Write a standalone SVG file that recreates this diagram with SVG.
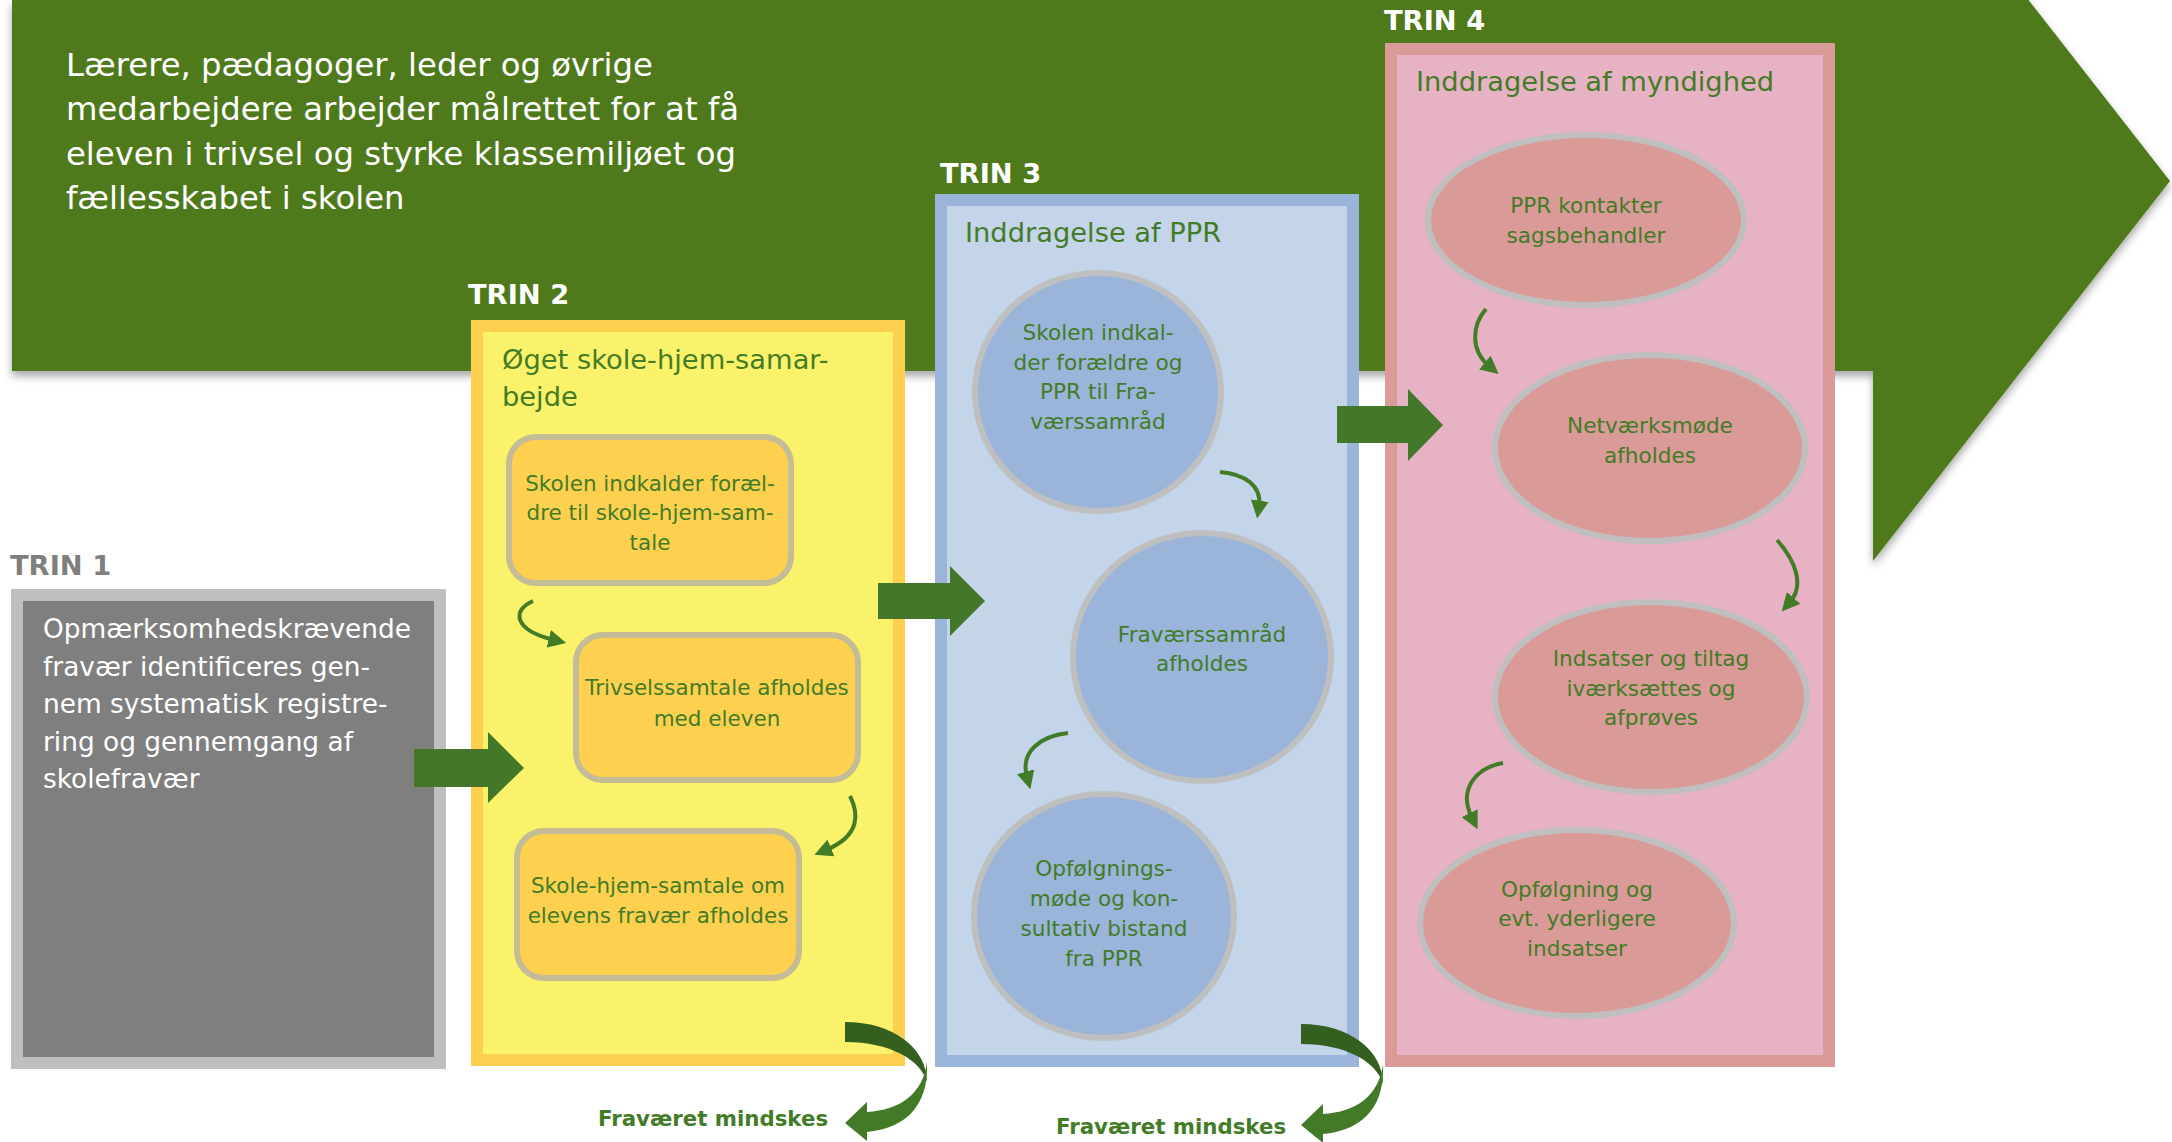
<svg xmlns="http://www.w3.org/2000/svg" width="2172" height="1142" viewBox="0 0 2172 1142">
<style>
text{font-family:"DejaVu Sans","Verdana",sans-serif}
.hdr{fill:#ffffff;font-size:32.3px}
.trin{font-weight:bold;font-size:27.3px}
.title{fill:#437c26;font-size:27.3px}
.t1{fill:#ffffff;font-size:26.4px}
.n2{fill:#437c26;font-size:21.5px;text-anchor:middle}
.n3{fill:#437c26;font-size:21.6px;text-anchor:middle}
.fm{fill:#437c26;font-size:21.3px;font-weight:bold}
.small{fill:none;stroke:#437c26;stroke-width:4;marker-end:url(#ah)}
.rr{fill:#fdd14f;stroke:#c4bb97;stroke-width:6}
.c3{fill:#9ab5d9;stroke:#bfbfbf;stroke-width:6}
.c4{fill:#d99a98;stroke:#bfbfbf;stroke-width:6}
.block{fill:#43782a}
</style>
<defs>
<filter id="sh" x="-5%" y="-5%" width="110%" height="115%">
<feDropShadow dx="0" dy="5" stdDeviation="4" flood-color="#000" flood-opacity="0.35"/>
</filter>
<marker id="ah" markerUnits="userSpaceOnUse" markerWidth="18" markerHeight="18" viewBox="0 0 10 10" refX="3" refY="5" orient="auto">
<path d="M0,0 L10,5 L0,10 Z" fill="#437c26"/>
</marker>
<g id="curved">
<path d="M0,0 C48,0 82,26 82,60 C76,38 45,20 0,20 Z" fill="#33601f"/>
<path d="M82,40 C84,85 60,106 22,110 L22,119 L0,101 L22,80 L22,90 C55,88 78,72 82,40 Z" fill="#437a28"/>
</g>
</defs>

<g id="background-arrow">
<polygon points="12,0 1873,0 1873,-199 2170,181 1873,561 1873,371 12,371" fill="#4f7a1f" filter="url(#sh)"/>
<text class="hdr" x="66" y="76">Lærere, pædagoger, leder og øvrige</text>
<text class="hdr" x="66" y="120">medarbejdere arbejder målrettet for at få</text>
<text class="hdr" x="66" y="165">eleven i trivsel og styrke klassemiljøet og</text>
<text class="hdr" x="66" y="209">fællesskabet i skolen</text>
</g>

<g id="trin1">
<text class="trin" x="10" y="575" fill="#7f7f7f">TRIN 1</text>
<rect x="17" y="595" width="423" height="468" fill="#7f7f7f" stroke="#bfbfbf" stroke-width="12"/>
<text class="t1" x="43" y="638">Opmærksomhedskrævende</text>
<text class="t1" x="43" y="676">fravær identificeres gen-</text>
<text class="t1" x="43" y="713">nem systematisk registre-</text>
<text class="t1" x="43" y="751">ring og gennemgang af</text>
<text class="t1" x="43" y="788">skolefravær</text>
</g>

<g id="trin2">
<text class="trin" x="468" y="304" fill="#ffffff">TRIN 2</text>
<rect x="477" y="326" width="422" height="734" fill="#faf26a" stroke="#fdd14f" stroke-width="12"/>
<text class="title" x="502" y="369">Øget skole-hjem-samar-</text>
<text class="title" x="502" y="406">bejde</text>
</g>
<g id="trin2-node1">
<rect class="rr" x="509" y="437" width="282" height="146" rx="27"/>
<text class="n2" x="650" y="491">Skolen indkalder foræl-</text>
<text class="n2" x="650" y="520">dre til skole-hjem-sam-</text>
<text class="n2" x="650" y="550">tale</text>
</g>
<g id="trin2-node2">
<rect class="rr" x="576" y="635" width="282" height="145" rx="27"/>
<text class="n2" x="717" y="695">Trivselssamtale afholdes</text>
<text class="n2" x="717" y="726">med eleven</text>
</g>
<g id="trin2-node3">
<rect class="rr" x="517" y="831" width="282" height="147" rx="27"/>
<text class="n2" x="658" y="893">Skole-hjem-samtale om</text>
<text class="n2" x="658" y="923">elevens fravær afholdes</text>
</g>

<g id="trin3">
<text class="trin" x="940" y="183" fill="#ffffff">TRIN 3</text>
<rect x="941" y="200" width="412" height="861" fill="#c4d4e9" stroke="#9ab5d9" stroke-width="12"/>
<text class="title" x="965" y="242">Inddragelse af PPR</text>
</g>
<g id="trin3-node1">
<ellipse class="c3" cx="1098" cy="392" rx="123" ry="119"/>
<text class="n3" x="1098" y="340">Skolen indkal-</text>
<text class="n3" x="1098" y="370">der forældre og</text>
<text class="n3" x="1098" y="399">PPR til Fra-</text>
<text class="n3" x="1098" y="429">værssamråd</text>
</g>
<g id="trin3-node2">
<ellipse class="c3" cx="1202" cy="657" rx="129" ry="124"/>
<text class="n3" x="1202" y="642">Fraværssamråd</text>
<text class="n3" x="1202" y="671">afholdes</text>
</g>
<g id="trin3-node3">
<ellipse class="c3" cx="1104" cy="916" rx="130" ry="122"/>
<text class="n3" x="1104" y="876">Opfølgnings-</text>
<text class="n3" x="1104" y="906">møde og kon-</text>
<text class="n3" x="1104" y="936">sultativ bistand</text>
<text class="n3" x="1104" y="966">fra PPR</text>
</g>

<g id="trin4">
<text class="trin" x="1384" y="30" fill="#ffffff">TRIN 4</text>
<rect x="1391" y="49" width="438" height="1012" fill="#e6b2c4" stroke="#d99a98" stroke-width="12"/>
<text class="title" x="1416" y="91">Inddragelse af myndighed</text>
</g>
<g id="trin4-node1">
<ellipse class="c4" cx="1586" cy="220" rx="158" ry="85"/>
<text class="n3" x="1586" y="213">PPR kontakter</text>
<text class="n3" x="1586" y="243">sagsbehandler</text>
</g>
<g id="trin4-node2">
<ellipse class="c4" cx="1650" cy="448" rx="155" ry="93"/>
<text class="n3" x="1650" y="433">Netværksmøde</text>
<text class="n3" x="1650" y="463">afholdes</text>
</g>
<g id="trin4-node3">
<ellipse class="c4" cx="1651" cy="697" rx="156" ry="95"/>
<text class="n3" x="1651" y="666">Indsatser og tiltag</text>
<text class="n3" x="1651" y="696">iværksættes og</text>
<text class="n3" x="1651" y="725">afprøves</text>
</g>
<g id="trin4-node4">
<ellipse class="c4" cx="1577" cy="923" rx="157" ry="93"/>
<text class="n3" x="1577" y="897">Opfølgning og</text>
<text class="n3" x="1577" y="926">evt. yderligere</text>
<text class="n3" x="1577" y="956">indsatser</text>
</g>

<g id="connectors">
<polygon class="block" points="414,749 488,749 488,732 524,768 488,803 488,787 414,787"/>
<polygon class="block" points="878,583 950,583 950,566 985,601 950,636 950,619 878,619"/>
<polygon class="block" points="1337,406 1408,406 1408,389 1443,425 1408,461 1408,443 1337,443"/>
<path class="small" d="M533,601 C512,610 513,630 554,640"/>
<path class="small" d="M850,796 C858,812 862,835 826,850"/>
<path class="small" d="M1220,472 C1245,474 1262,486 1259,506"/>
<path class="small" d="M1068,733 C1040,736 1020,752 1027,777"/>
<path class="small" d="M1486,309 C1472,325 1470,350 1489,366"/>
<path class="small" d="M1777,540 C1795,560 1805,585 1790,602"/>
<path class="small" d="M1503,763 C1475,768 1458,790 1472,818"/>
<use href="#curved" transform="translate(845,1022)"/>
<use href="#curved" transform="translate(1301,1024)"/>
<text class="fm" x="598" y="1126">Fraværet mindskes</text>
<text class="fm" x="1056" y="1134">Fraværet mindskes</text>
</g>
</svg>
